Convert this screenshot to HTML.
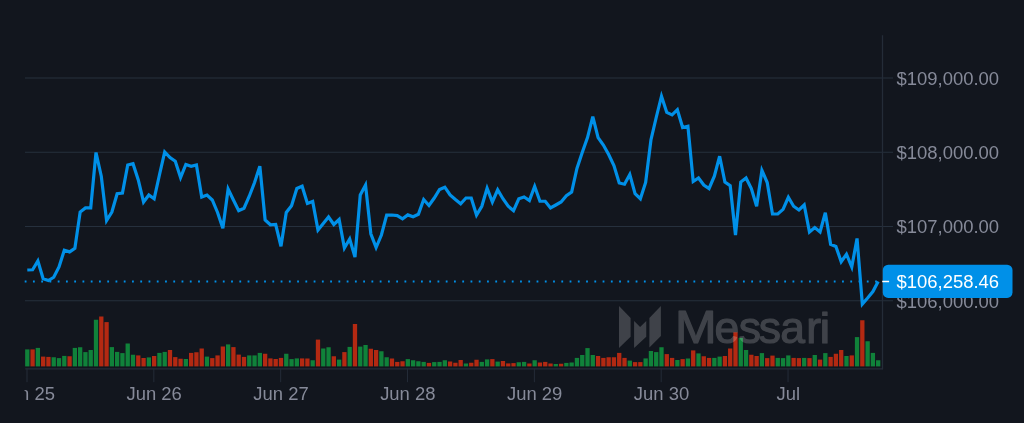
<!DOCTYPE html>
<html><head><meta charset="utf-8"><title>Chart</title>
<style>
html,body{margin:0;padding:0;background:#12161e;}
body{width:1024px;height:423px;overflow:hidden;position:relative;font-family:"Liberation Sans",sans-serif;}
</style></head><body>
<svg width="1024" height="423" viewBox="0 0 1024 423" style="position:absolute;left:0;top:0;will-change:transform;transform:translateZ(0);filter:blur(0.35px)">
<rect width="1024" height="423" fill="#12161e"/>
<line x1="25" x2="893" y1="78.0" y2="78.0" stroke="#26303d" stroke-width="1.15"/>
<line x1="25" x2="893" y1="152.25" y2="152.25" stroke="#26303d" stroke-width="1.15"/>
<line x1="25" x2="893" y1="226.5" y2="226.5" stroke="#26303d" stroke-width="1.15"/>
<line x1="25" x2="893" y1="300.7" y2="300.7" stroke="#26303d" stroke-width="1.15"/>
<line x1="882.5" x2="882.5" y1="35.2" y2="369.2" stroke="#242c38" stroke-width="1.3"/>
<line x1="25.2" x2="883" y1="368.8" y2="368.8" stroke="#242c38" stroke-width="1.3"/>
<line x1="27.00" x2="27.00" y1="368.5" y2="382.2" stroke="#242c38" stroke-width="1"/>
<line x1="153.84" x2="153.84" y1="368.5" y2="382.2" stroke="#242c38" stroke-width="1"/>
<line x1="280.68" x2="280.68" y1="368.5" y2="382.2" stroke="#242c38" stroke-width="1"/>
<line x1="407.52" x2="407.52" y1="368.5" y2="382.2" stroke="#242c38" stroke-width="1"/>
<line x1="534.36" x2="534.36" y1="368.5" y2="382.2" stroke="#242c38" stroke-width="1"/>
<line x1="661.20" x2="661.20" y1="368.5" y2="382.2" stroke="#242c38" stroke-width="1"/>
<line x1="788.04" x2="788.04" y1="368.5" y2="382.2" stroke="#242c38" stroke-width="1"/>
<rect x="25.15" y="349.40" width="4.3" height="17.00" fill="#10823a"/>
<rect x="30.44" y="349.40" width="4.3" height="17.00" fill="#b42912"/>
<rect x="35.72" y="347.90" width="4.3" height="18.50" fill="#10823a"/>
<rect x="41.01" y="356.60" width="4.3" height="9.80" fill="#b42912"/>
<rect x="46.29" y="356.90" width="4.3" height="9.50" fill="#b42912"/>
<rect x="51.58" y="357.25" width="4.3" height="9.15" fill="#10823a"/>
<rect x="56.86" y="358.10" width="4.3" height="8.30" fill="#10823a"/>
<rect x="62.15" y="355.90" width="4.3" height="10.50" fill="#10823a"/>
<rect x="67.43" y="356.25" width="4.3" height="10.15" fill="#b42912"/>
<rect x="72.71" y="347.90" width="4.3" height="18.50" fill="#10823a"/>
<rect x="78.00" y="347.25" width="4.3" height="19.15" fill="#10823a"/>
<rect x="83.28" y="352.10" width="4.3" height="14.30" fill="#10823a"/>
<rect x="88.57" y="350.00" width="4.3" height="16.40" fill="#10823a"/>
<rect x="93.85" y="319.75" width="4.3" height="46.65" fill="#10823a"/>
<rect x="99.14" y="316.50" width="4.3" height="49.90" fill="#b42912"/>
<rect x="104.42" y="322.10" width="4.3" height="44.30" fill="#b42912"/>
<rect x="109.71" y="347.10" width="4.3" height="19.30" fill="#10823a"/>
<rect x="114.99" y="351.90" width="4.3" height="14.50" fill="#10823a"/>
<rect x="120.28" y="353.10" width="4.3" height="13.30" fill="#10823a"/>
<rect x="125.56" y="343.50" width="4.3" height="22.90" fill="#10823a"/>
<rect x="130.85" y="354.75" width="4.3" height="11.65" fill="#10823a"/>
<rect x="136.13" y="355.40" width="4.3" height="11.00" fill="#b42912"/>
<rect x="141.42" y="358.00" width="4.3" height="8.40" fill="#b42912"/>
<rect x="146.71" y="357.40" width="4.3" height="9.00" fill="#10823a"/>
<rect x="151.99" y="356.00" width="4.3" height="10.40" fill="#b42912"/>
<rect x="157.28" y="352.90" width="4.3" height="13.50" fill="#10823a"/>
<rect x="162.56" y="351.90" width="4.3" height="14.50" fill="#10823a"/>
<rect x="167.84" y="350.00" width="4.3" height="16.40" fill="#b42912"/>
<rect x="173.13" y="357.10" width="4.3" height="9.30" fill="#b42912"/>
<rect x="178.42" y="358.75" width="4.3" height="7.65" fill="#b42912"/>
<rect x="183.70" y="359.00" width="4.3" height="7.40" fill="#10823a"/>
<rect x="188.99" y="352.90" width="4.3" height="13.50" fill="#b42912"/>
<rect x="194.27" y="352.25" width="4.3" height="14.15" fill="#b42912"/>
<rect x="199.56" y="348.50" width="4.3" height="17.90" fill="#b42912"/>
<rect x="204.84" y="356.60" width="4.3" height="9.80" fill="#10823a"/>
<rect x="210.12" y="358.10" width="4.3" height="8.30" fill="#b42912"/>
<rect x="215.41" y="355.40" width="4.3" height="11.00" fill="#b42912"/>
<rect x="220.70" y="346.50" width="4.3" height="19.90" fill="#b42912"/>
<rect x="225.98" y="344.40" width="4.3" height="22.00" fill="#10823a"/>
<rect x="231.27" y="347.10" width="4.3" height="19.30" fill="#b42912"/>
<rect x="236.55" y="354.60" width="4.3" height="11.80" fill="#b42912"/>
<rect x="241.84" y="356.90" width="4.3" height="9.50" fill="#b42912"/>
<rect x="247.12" y="355.40" width="4.3" height="11.00" fill="#10823a"/>
<rect x="252.41" y="355.40" width="4.3" height="11.00" fill="#10823a"/>
<rect x="257.69" y="352.90" width="4.3" height="13.50" fill="#10823a"/>
<rect x="262.98" y="353.75" width="4.3" height="12.65" fill="#b42912"/>
<rect x="268.26" y="358.40" width="4.3" height="8.00" fill="#b42912"/>
<rect x="273.55" y="359.00" width="4.3" height="7.40" fill="#b42912"/>
<rect x="278.83" y="357.90" width="4.3" height="8.50" fill="#b42912"/>
<rect x="284.12" y="353.75" width="4.3" height="12.65" fill="#10823a"/>
<rect x="289.40" y="359.10" width="4.3" height="7.30" fill="#10823a"/>
<rect x="294.69" y="358.40" width="4.3" height="8.00" fill="#10823a"/>
<rect x="299.97" y="358.40" width="4.3" height="8.00" fill="#b42912"/>
<rect x="305.26" y="358.50" width="4.3" height="7.90" fill="#b42912"/>
<rect x="310.54" y="360.25" width="4.3" height="6.15" fill="#10823a"/>
<rect x="315.83" y="339.60" width="4.3" height="26.80" fill="#b42912"/>
<rect x="321.11" y="348.50" width="4.3" height="17.90" fill="#10823a"/>
<rect x="326.40" y="347.25" width="4.3" height="19.15" fill="#10823a"/>
<rect x="331.68" y="356.25" width="4.3" height="10.15" fill="#b42912"/>
<rect x="336.97" y="359.60" width="4.3" height="6.80" fill="#10823a"/>
<rect x="342.25" y="352.10" width="4.3" height="14.30" fill="#b42912"/>
<rect x="347.54" y="346.90" width="4.3" height="19.50" fill="#10823a"/>
<rect x="352.82" y="324.00" width="4.3" height="42.40" fill="#b42912"/>
<rect x="358.11" y="346.60" width="4.3" height="19.80" fill="#10823a"/>
<rect x="363.39" y="345.00" width="4.3" height="21.40" fill="#10823a"/>
<rect x="368.68" y="348.75" width="4.3" height="17.65" fill="#b42912"/>
<rect x="373.96" y="350.00" width="4.3" height="16.40" fill="#b42912"/>
<rect x="379.25" y="351.25" width="4.3" height="15.15" fill="#10823a"/>
<rect x="384.53" y="357.25" width="4.3" height="9.15" fill="#10823a"/>
<rect x="389.82" y="358.50" width="4.3" height="7.90" fill="#b42912"/>
<rect x="395.10" y="361.90" width="4.3" height="4.50" fill="#b42912"/>
<rect x="400.39" y="361.25" width="4.3" height="5.15" fill="#b42912"/>
<rect x="405.67" y="359.10" width="4.3" height="7.30" fill="#10823a"/>
<rect x="410.96" y="360.25" width="4.3" height="6.15" fill="#10823a"/>
<rect x="416.24" y="361.25" width="4.3" height="5.15" fill="#10823a"/>
<rect x="421.53" y="361.90" width="4.3" height="4.50" fill="#10823a"/>
<rect x="426.81" y="362.90" width="4.3" height="3.50" fill="#b42912"/>
<rect x="432.10" y="362.10" width="4.3" height="4.30" fill="#10823a"/>
<rect x="437.38" y="361.90" width="4.3" height="4.50" fill="#10823a"/>
<rect x="442.67" y="360.25" width="4.3" height="6.15" fill="#10823a"/>
<rect x="447.95" y="361.50" width="4.3" height="4.90" fill="#b42912"/>
<rect x="453.24" y="362.75" width="4.3" height="3.65" fill="#b42912"/>
<rect x="458.52" y="360.00" width="4.3" height="6.40" fill="#b42912"/>
<rect x="463.81" y="363.50" width="4.3" height="2.90" fill="#10823a"/>
<rect x="469.09" y="362.75" width="4.3" height="3.65" fill="#b42912"/>
<rect x="474.38" y="359.75" width="4.3" height="6.65" fill="#b42912"/>
<rect x="479.66" y="361.90" width="4.3" height="4.50" fill="#10823a"/>
<rect x="484.95" y="359.40" width="4.3" height="7.00" fill="#10823a"/>
<rect x="490.23" y="359.10" width="4.3" height="7.30" fill="#b42912"/>
<rect x="495.52" y="361.60" width="4.3" height="4.80" fill="#10823a"/>
<rect x="500.80" y="361.00" width="4.3" height="5.40" fill="#b42912"/>
<rect x="506.09" y="363.40" width="4.3" height="3.00" fill="#b42912"/>
<rect x="511.37" y="363.10" width="4.3" height="3.30" fill="#b42912"/>
<rect x="516.65" y="362.25" width="4.3" height="4.15" fill="#10823a"/>
<rect x="521.94" y="361.90" width="4.3" height="4.50" fill="#10823a"/>
<rect x="527.23" y="363.50" width="4.3" height="2.90" fill="#b42912"/>
<rect x="532.51" y="360.25" width="4.3" height="6.15" fill="#10823a"/>
<rect x="537.79" y="362.50" width="4.3" height="3.90" fill="#b42912"/>
<rect x="543.08" y="361.90" width="4.3" height="4.50" fill="#b42912"/>
<rect x="548.37" y="363.50" width="4.3" height="2.90" fill="#b42912"/>
<rect x="553.65" y="364.00" width="4.3" height="2.40" fill="#10823a"/>
<rect x="558.93" y="363.75" width="4.3" height="2.65" fill="#b42912"/>
<rect x="564.22" y="362.90" width="4.3" height="3.50" fill="#10823a"/>
<rect x="569.50" y="362.50" width="4.3" height="3.90" fill="#10823a"/>
<rect x="574.79" y="357.90" width="4.3" height="8.50" fill="#10823a"/>
<rect x="580.08" y="355.00" width="4.3" height="11.40" fill="#10823a"/>
<rect x="585.36" y="348.10" width="4.3" height="18.30" fill="#10823a"/>
<rect x="590.64" y="355.00" width="4.3" height="11.40" fill="#10823a"/>
<rect x="595.93" y="356.00" width="4.3" height="10.40" fill="#b42912"/>
<rect x="601.22" y="357.90" width="4.3" height="8.50" fill="#b42912"/>
<rect x="606.50" y="357.25" width="4.3" height="9.15" fill="#b42912"/>
<rect x="611.78" y="357.25" width="4.3" height="9.15" fill="#b42912"/>
<rect x="617.07" y="352.90" width="4.3" height="13.50" fill="#b42912"/>
<rect x="622.36" y="357.90" width="4.3" height="8.50" fill="#b42912"/>
<rect x="627.64" y="360.60" width="4.3" height="5.80" fill="#10823a"/>
<rect x="632.92" y="362.10" width="4.3" height="4.30" fill="#b42912"/>
<rect x="638.21" y="362.10" width="4.3" height="4.30" fill="#b42912"/>
<rect x="643.50" y="358.40" width="4.3" height="8.00" fill="#10823a"/>
<rect x="648.78" y="351.00" width="4.3" height="15.40" fill="#10823a"/>
<rect x="654.06" y="352.10" width="4.3" height="14.30" fill="#10823a"/>
<rect x="659.35" y="347.25" width="4.3" height="19.15" fill="#10823a"/>
<rect x="664.63" y="354.10" width="4.3" height="12.30" fill="#b42912"/>
<rect x="669.92" y="357.90" width="4.3" height="8.50" fill="#b42912"/>
<rect x="675.21" y="360.00" width="4.3" height="6.40" fill="#10823a"/>
<rect x="680.49" y="359.10" width="4.3" height="7.30" fill="#b42912"/>
<rect x="685.77" y="358.50" width="4.3" height="7.90" fill="#10823a"/>
<rect x="691.06" y="350.40" width="4.3" height="16.00" fill="#b42912"/>
<rect x="696.35" y="353.40" width="4.3" height="13.00" fill="#10823a"/>
<rect x="701.63" y="356.25" width="4.3" height="10.15" fill="#b42912"/>
<rect x="706.91" y="357.90" width="4.3" height="8.50" fill="#b42912"/>
<rect x="712.20" y="357.90" width="4.3" height="8.50" fill="#10823a"/>
<rect x="717.49" y="356.60" width="4.3" height="9.80" fill="#10823a"/>
<rect x="722.77" y="356.00" width="4.3" height="10.40" fill="#b42912"/>
<rect x="728.05" y="348.50" width="4.3" height="17.90" fill="#b42912"/>
<rect x="733.34" y="332.25" width="4.3" height="34.15" fill="#b42912"/>
<rect x="738.62" y="337.90" width="4.3" height="28.50" fill="#10823a"/>
<rect x="743.91" y="350.00" width="4.3" height="16.40" fill="#10823a"/>
<rect x="749.20" y="354.75" width="4.3" height="11.65" fill="#b42912"/>
<rect x="754.48" y="356.00" width="4.3" height="10.40" fill="#b42912"/>
<rect x="759.76" y="353.10" width="4.3" height="13.30" fill="#10823a"/>
<rect x="765.05" y="358.10" width="4.3" height="8.30" fill="#b42912"/>
<rect x="770.34" y="355.60" width="4.3" height="10.80" fill="#b42912"/>
<rect x="775.62" y="357.90" width="4.3" height="8.50" fill="#10823a"/>
<rect x="780.90" y="358.10" width="4.3" height="8.30" fill="#10823a"/>
<rect x="786.19" y="355.40" width="4.3" height="11.00" fill="#10823a"/>
<rect x="791.48" y="357.90" width="4.3" height="8.50" fill="#b42912"/>
<rect x="796.76" y="358.10" width="4.3" height="8.30" fill="#b42912"/>
<rect x="802.04" y="357.90" width="4.3" height="8.50" fill="#10823a"/>
<rect x="807.33" y="358.10" width="4.3" height="8.30" fill="#b42912"/>
<rect x="812.62" y="355.00" width="4.3" height="11.40" fill="#10823a"/>
<rect x="817.90" y="359.60" width="4.3" height="6.80" fill="#b42912"/>
<rect x="823.18" y="353.10" width="4.3" height="13.30" fill="#10823a"/>
<rect x="828.47" y="356.90" width="4.3" height="9.50" fill="#b42912"/>
<rect x="833.75" y="353.75" width="4.3" height="12.65" fill="#b42912"/>
<rect x="839.04" y="350.00" width="4.3" height="16.40" fill="#b42912"/>
<rect x="844.33" y="356.00" width="4.3" height="10.40" fill="#10823a"/>
<rect x="849.61" y="355.40" width="4.3" height="11.00" fill="#b42912"/>
<rect x="854.89" y="337.10" width="4.3" height="29.30" fill="#10823a"/>
<rect x="860.18" y="320.25" width="4.3" height="46.15" fill="#b42912"/>
<rect x="865.47" y="341.25" width="4.3" height="25.15" fill="#10823a"/>
<rect x="870.75" y="352.90" width="4.3" height="13.50" fill="#10823a"/>
<rect x="876.03" y="360.25" width="4.3" height="6.15" fill="#10823a"/>
<line x1="24.7" x2="882" y1="281.5" y2="281.5" stroke="#0090e8" stroke-width="1.8" stroke-dasharray="1.8 6.456"/>
<polyline points="27.30,270.00 32.59,269.75 37.87,261.00 43.16,278.75 48.44,280.60 53.73,277.25 59.01,266.90 64.30,250.25 69.58,251.90 74.86,248.40 80.15,212.00 85.44,207.90 90.72,207.90 96.00,152.50 101.29,176.25 106.58,220.50 111.86,212.00 117.14,193.75 122.43,193.00 127.72,165.00 133.00,163.75 138.28,180.00 143.57,202.00 148.86,195.00 154.14,198.75 159.43,175.00 164.71,152.00 170.00,157.50 175.28,161.25 180.57,177.50 185.85,164.50 191.14,166.25 196.42,165.00 201.71,197.00 206.99,195.00 212.28,200.00 217.56,212.50 222.85,228.30 228.13,189.00 233.42,200.00 238.70,210.75 243.99,208.25 249.27,196.25 254.56,182.50 259.84,166.25 265.12,220.00 270.41,224.80 275.69,224.50 280.98,246.25 286.27,212.50 291.55,205.75 296.84,188.50 302.12,186.20 307.41,203.40 312.69,201.50 317.98,230.00 323.26,223.50 328.55,217.00 333.83,224.50 339.12,219.50 344.40,248.00 349.69,239.00 354.97,257.00 360.25,195.00 365.54,185.00 370.83,233.75 376.11,247.50 381.40,235.00 386.68,215.10 391.97,215.00 397.25,215.60 402.54,218.75 407.82,214.90 413.11,216.80 418.39,214.30 423.68,199.50 428.96,205.50 434.25,198.00 439.53,189.50 444.81,187.20 450.10,195.00 455.39,199.50 460.67,203.75 465.96,198.00 471.24,198.00 476.53,215.00 481.81,206.25 487.10,188.20 492.38,202.00 497.67,189.80 502.95,198.75 508.24,206.25 513.52,210.75 518.80,198.75 524.09,197.00 529.38,200.50 534.66,186.50 539.94,201.25 545.23,201.25 550.51,208.00 555.80,205.00 561.08,202.00 566.37,195.75 571.65,192.00 576.94,168.50 582.23,152.50 587.51,137.60 592.79,116.60 598.08,137.60 603.37,145.00 608.65,154.50 613.93,165.50 619.22,183.00 624.50,184.25 629.79,174.50 635.07,193.75 640.36,198.75 645.64,182.50 650.93,140.00 656.21,117.50 661.50,96.20 666.78,112.40 672.07,114.90 677.36,109.70 682.64,127.50 687.92,126.25 693.21,181.50 698.50,178.00 703.78,185.00 709.06,188.50 714.35,176.25 719.63,156.20 724.92,182.00 730.20,185.75 735.49,235.00 740.77,182.00 746.06,178.00 751.35,188.50 756.63,206.25 761.91,170.40 767.20,182.50 772.49,214.00 777.77,214.00 783.05,209.40 788.34,197.25 793.62,206.25 798.91,210.00 804.19,205.00 809.48,232.00 814.76,227.60 820.05,232.00 825.33,212.75 830.62,244.25 835.90,246.40 841.19,261.70 846.48,254.25 851.76,267.00 857.04,238.50 862.33,304.00 867.62,298.00 872.90,291.50 878.18,281.60" fill="none" stroke="#0090e8" stroke-width="3.2" stroke-linejoin="miter" stroke-linecap="butt"/>
<g opacity="0.19" fill="#ffffff">
<polygon points="619,306.1 630.6,318 630.6,336.75 619,348"/>
<polygon points="634.1,321.1 640.1,327 646.25,321.1 646.25,336.75 634.1,348"/>
<polygon points="660.9,306.1 660.9,336.1 649.4,347.4 649.4,318"/>
<text transform="translate(675.08,342.52) scale(1.1228,1.0305)" x="0" y="0" font-family="Liberation Sans, sans-serif" font-size="44.5" stroke="#ffffff" stroke-width="1.1" stroke-linejoin="round">M</text>
<text x="714.48 738.73 758.85 780.15 806.14" y="342.7" font-family="Liberation Sans, sans-serif" font-size="44.5" stroke="#ffffff" stroke-width="1.1" stroke-linejoin="round">essar</text>
<text transform="translate(819.43,342.57) scale(1.09,0.9426)" x="0" y="0" font-family="Liberation Sans, sans-serif" font-size="44.5" stroke="#ffffff" stroke-width="1.1" stroke-linejoin="round">i</text>
</g>
<text x="896.6" y="84.90" font-family="Liberation Sans, sans-serif" font-size="18.45" fill="#868a99">$109,000.00</text>
<text x="896.6" y="159.15" font-family="Liberation Sans, sans-serif" font-size="18.45" fill="#868a99">$108,000.00</text>
<text x="896.6" y="233.40" font-family="Liberation Sans, sans-serif" font-size="18.45" fill="#868a99">$107,000.00</text>
<text x="896.6" y="307.70" font-family="Liberation Sans, sans-serif" font-size="18.45" fill="#868a99">$106,000.00</text>
<rect x="882.8" y="264.7" width="129.7" height="33.2" rx="5.4" fill="#0090e8"/>
<line x1="882.2" x2="889.1" y1="281.5" y2="281.5" stroke="#ffffff" stroke-width="1.5"/>
<text x="896.6" y="288.2" font-family="Liberation Sans, sans-serif" font-size="18.45" fill="#ffffff">$106,258.46</text>
<text x="27.30" y="400" text-anchor="middle" font-family="Liberation Sans, sans-serif" font-size="18.45" fill="#868a99">Jun 25</text>
<text x="154.14" y="400" text-anchor="middle" font-family="Liberation Sans, sans-serif" font-size="18.45" fill="#868a99">Jun 26</text>
<text x="280.98" y="400" text-anchor="middle" font-family="Liberation Sans, sans-serif" font-size="18.45" fill="#868a99">Jun 27</text>
<text x="407.82" y="400" text-anchor="middle" font-family="Liberation Sans, sans-serif" font-size="18.45" fill="#868a99">Jun 28</text>
<text x="534.66" y="400" text-anchor="middle" font-family="Liberation Sans, sans-serif" font-size="18.45" fill="#868a99">Jun 29</text>
<text x="661.50" y="400" text-anchor="middle" font-family="Liberation Sans, sans-serif" font-size="18.45" fill="#868a99">Jun 30</text>
<text x="788.34" y="400" text-anchor="middle" font-family="Liberation Sans, sans-serif" font-size="18.45" fill="#868a99">Jul</text>
<rect x="0" y="384" width="24.5" height="22" fill="#12161e"/>
</svg>
</body></html>
